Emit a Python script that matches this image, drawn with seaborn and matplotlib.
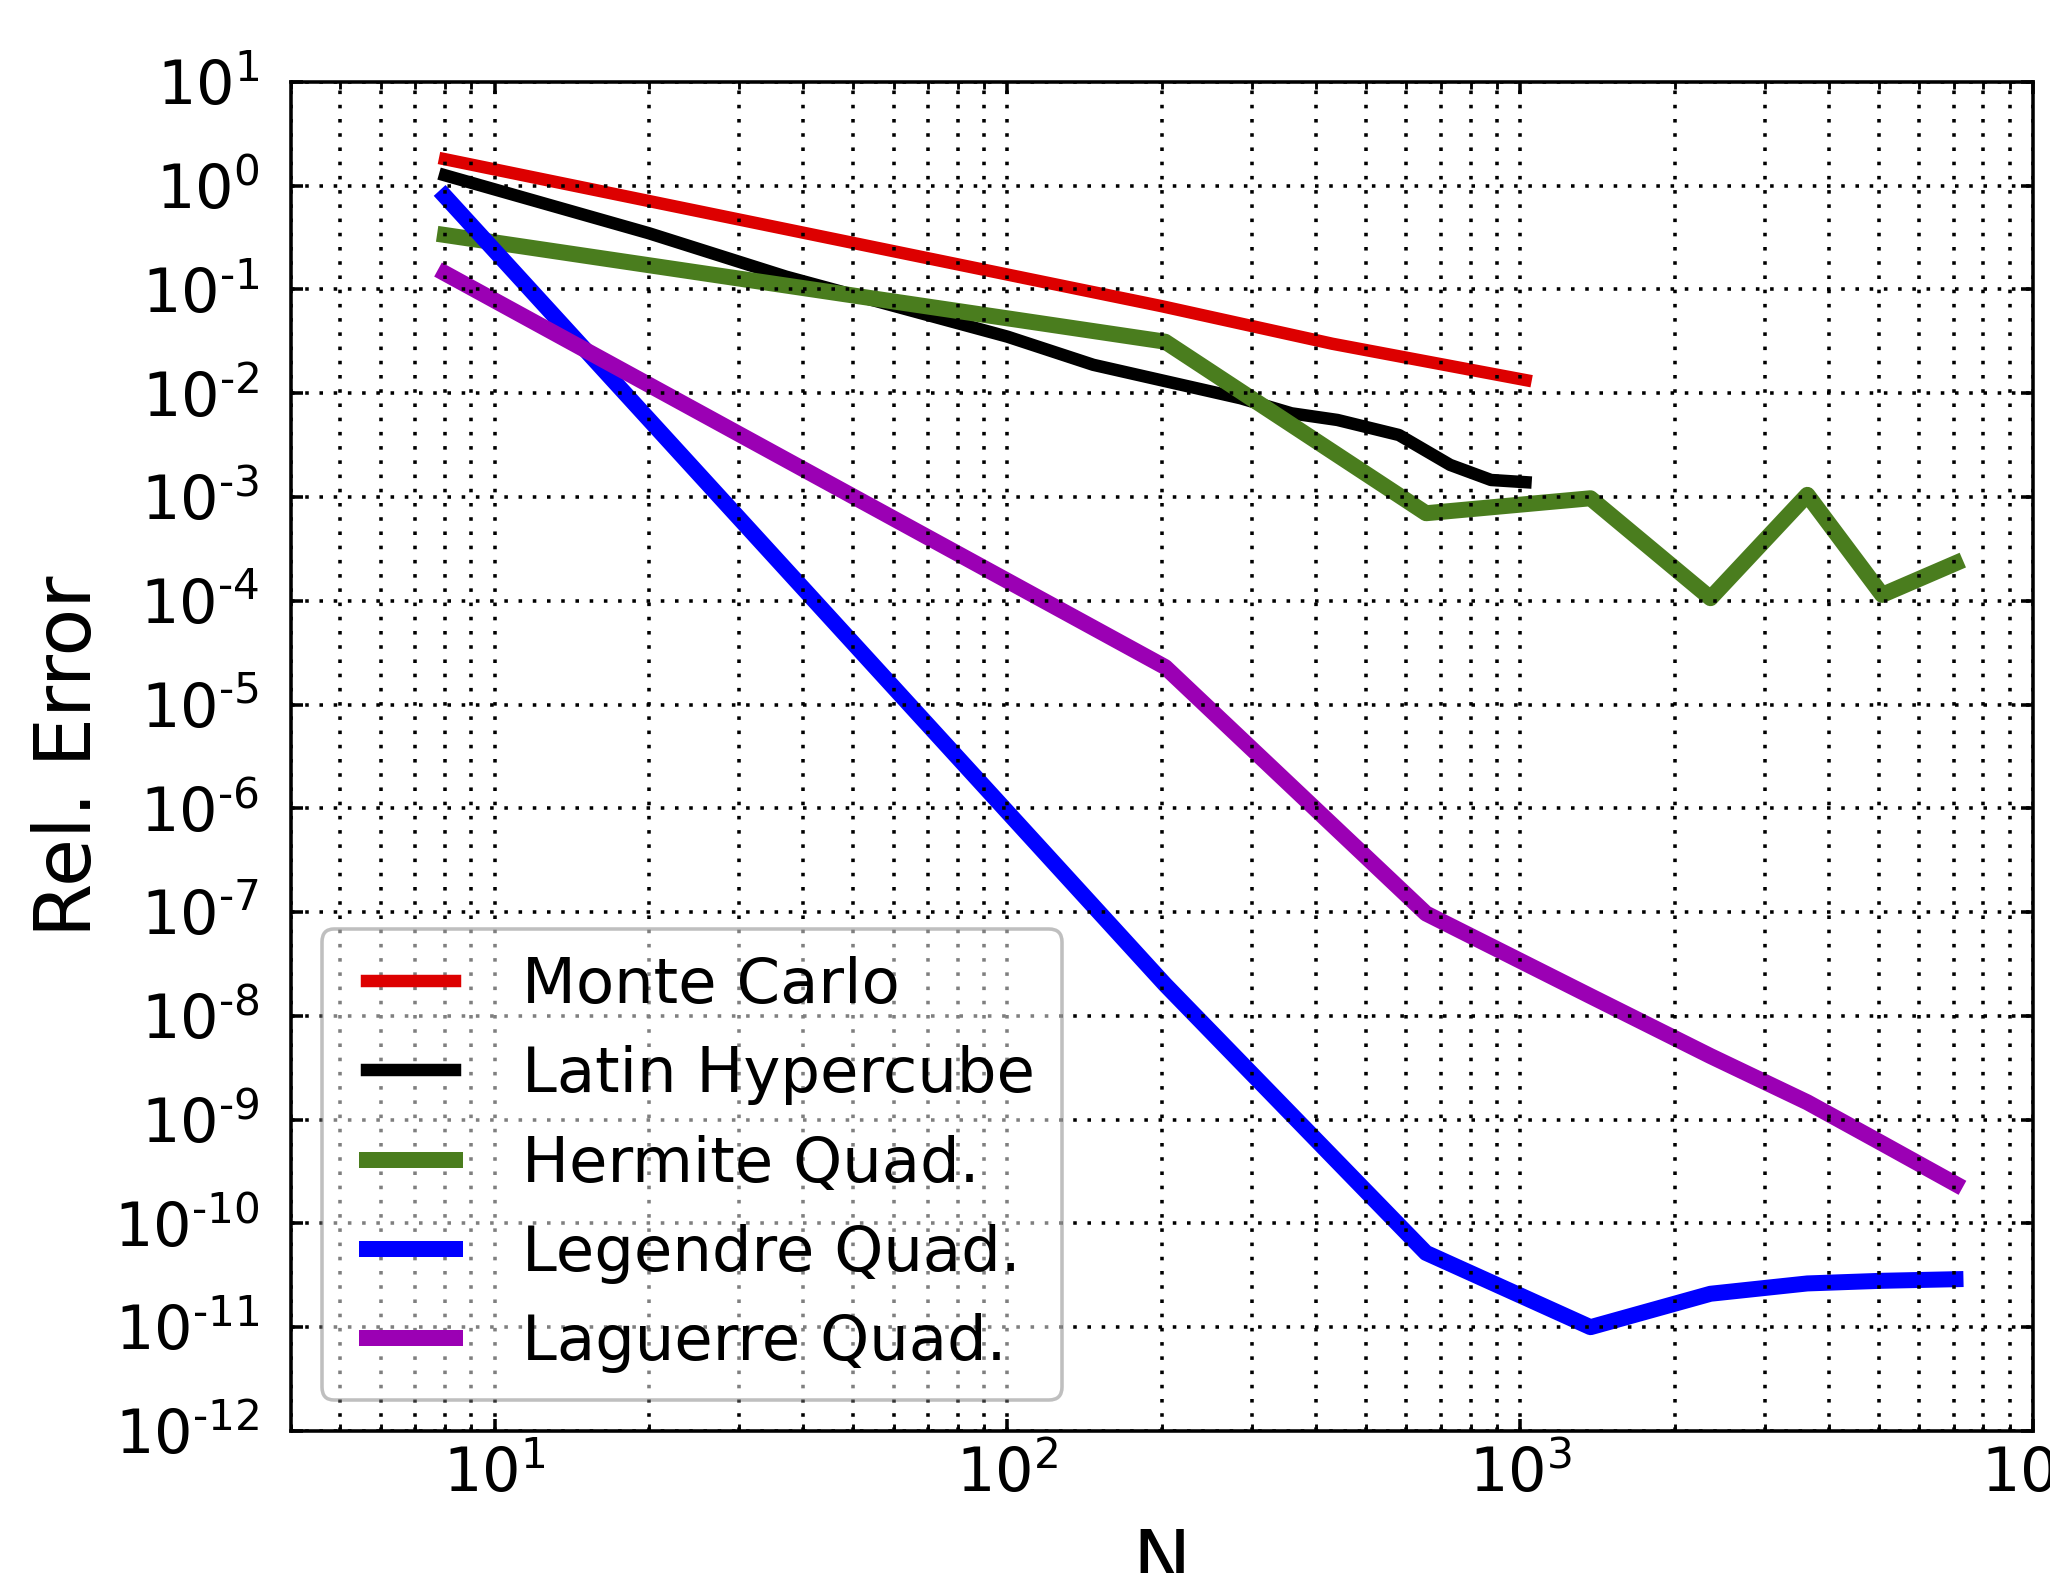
import numpy as np
import pandas as pd
import matplotlib
matplotlib.use("Agg")
import matplotlib.pyplot as plt
import seaborn as sns
from matplotlib.ticker import LogLocator, NullLocator, FuncFormatter

# values
methods = ["Monte Carlo", "Latin Hypercube", "Hermite Quad.", "Legendre Quad.", "Laguerre Quad."]

n_mc = [8, 200, 430, 1024]
err_mc = [1.8, 0.069, 0.030, 0.0134]

n_lhs = [8, 20, 37, 100, 147, 285, 358, 440, 580, 730, 877, 1024]
err_lhs = [1.26, 0.348, 0.133, 0.0351, 0.0188, 0.00895, 0.00641, 0.00553,
           0.00396, 0.00204, 0.00146, 0.00139]

n_quad = [8, 203, 655, 1371, 2350, 3630, 5080, 7060]
err_hermite = [0.335, 0.0314, 6.98e-4, 9.73e-4, 1.06e-4, 1.05e-3, 1.14e-4, 2.30e-4]
err_legendre = [0.79, 2.0e-8, 5.2e-11, 1.0e-11, 2.1e-11, 2.64e-11, 2.8e-11, 2.9e-11]
err_laguerre = [0.143, 2.3e-5, 9.7e-8, 1.55e-8, 4.1e-9, 1.47e-9, 5.9e-10, 2.4e-10]

colors = ["#dd0000", "#000000", "#4a7d1e", "#0000ff", "#9b00b4"]
widths = [3.5, 3.5, 4.5, 4.5, 4.5]

frames = []
for name, n, e in zip(methods,
                      [n_mc, n_lhs, n_quad, n_quad, n_quad],
                      [err_mc, err_lhs, err_hermite, err_legendre, err_laguerre]):
    frames.append(pd.DataFrame({"N": n, "err": e, "method": name}))
df = pd.concat(frames, ignore_index=True)

plt.rcParams["font.family"] = ["DejaVu Sans"]
plt.rcParams["axes.unicode_minus"] = False
plt.rcParams["mathtext.fontset"] = "dejavusans"


def pow_label(v, pos):
    e = int(round(np.log10(v)))
    if e < 0:
        return r"$10^{\text{-}%d}$" % abs(e)
    return r"$10^{%d}$" % e


fig = plt.figure(figsize=(2050 / 256, 1573 / 256), dpi=256)
ax = fig.add_axes([0.1418, 0.0903, 0.8499, 0.8576])

for name, c, w in zip(methods, colors, widths):
    sns.lineplot(data=df[df["method"] == name], x="N", y="err", color=c,
                 linewidth=w, label=name, ax=ax, estimator=None, sort=False)

ax.set_xscale("log")
ax.set_yscale("log")
ax.set_xlim(4, 1e4)
ax.set_ylim(1e-12, 1e1)

ax.xaxis.set_major_locator(LogLocator(base=10))
ax.xaxis.set_minor_locator(LogLocator(base=10, subs=np.arange(2, 10)))
ax.yaxis.set_major_locator(LogLocator(base=10, numticks=20))
ax.yaxis.set_minor_locator(NullLocator())
ax.xaxis.set_major_formatter(FuncFormatter(pow_label))
ax.yaxis.set_major_formatter(FuncFormatter(pow_label))

ax.set_axisbelow(False)
grid_style = dict(color="k", linestyle=(0, (1, 3)), linewidth=1.0)
ax.grid(True, which="both", axis="x", **grid_style)
ax.grid(True, which="major", axis="y", **grid_style)

ax.tick_params(which="both", direction="in", top=True, right=True, labelsize=17)
ax.tick_params(which="major", length=3.5, width=1.0)
ax.tick_params(which="minor", length=2.0, width=0.8)
ax.tick_params(axis="x", which="major", pad=4)
ax.tick_params(axis="y", which="major", pad=8.8)
for s in ax.spines.values():
    s.set_linewidth(1.0)

ax.set_xlabel("N", fontsize=22, labelpad=6)
ax.set_ylabel("Rel. Error", fontsize=22, labelpad=2)

leg = ax.legend(loc="lower left", fontsize=17.6, numpoints=2, handlelength=2.0,
                handletextpad=0.78, labelspacing=0.47, borderpad=0.42, fancybox=True,
                framealpha=0.5, edgecolor="0.5")
leg.get_frame().set_linewidth(1.0)

fig.savefig("out.png", dpi=256)
